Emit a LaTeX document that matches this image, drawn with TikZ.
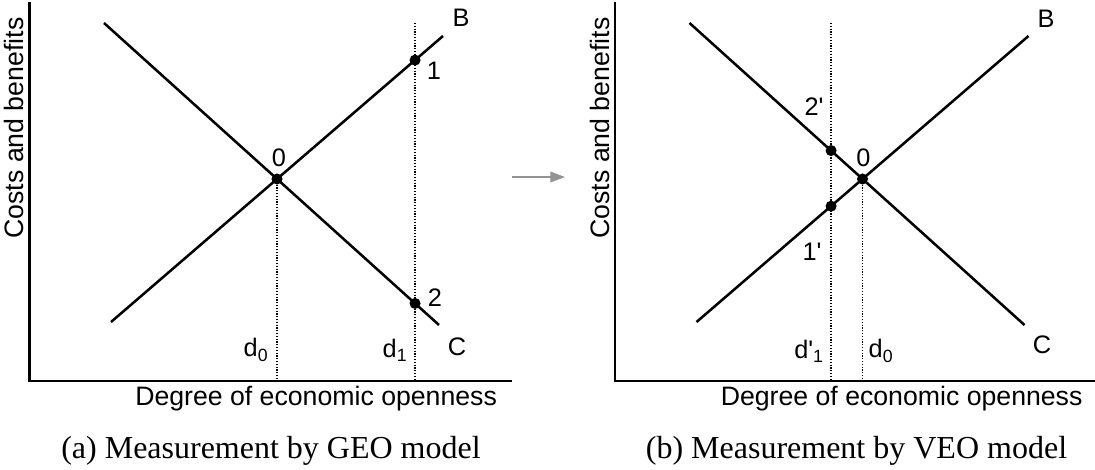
\documentclass[tikz,border=0pt]{standalone}
\usepackage{fontspec}
\setmainfont{Liberation Serif}
\setsansfont{Liberation Sans}
\usetikzlibrary{arrows.meta, positioning, calc}

\begin{document}
\begin{tikzpicture}[x=0.75pt, y=-0.75pt,
  axis/.style={line width=2.2pt},
  curve/.style={line width=1.9pt},
  guide/.style={line width=0.9pt, dash pattern=on 0.9pt off 1.2pt},
  dot/.style={circle, fill=black, inner sep=0pt, minimum size=8.3pt},
  lbl/.style={font=\sffamily\fontsize{19}{21}\selectfont, inner sep=0pt},
  axlbl/.style={font=\sffamily\fontsize{20}{22}\selectfont, inner sep=0pt},
  captxt/.style={font=\fontsize{24}{26}\selectfont, inner sep=0pt}]
  \useasboundingbox (0,0) rectangle (1095,469);

  % (a) GEO model
  \coordinate (ya) at (29.5,2); \coordinate (oa) at (29.5,381); \coordinate (xa) at (512,381);
  \draw[axis] (ya) -- (oa) -- (xa);
  \coordinate (Cas) at (104,23); \coordinate (Cae) at (439,325);
  \coordinate (Bas) at (111,322); \coordinate (Bae) at (443,36);
  \draw[curve] (Cas) -- (Cae);
  \draw[curve] (Bas) -- (Bae);
  \coordinate (d1t) at (415,23); \coordinate (d1b) at (415,381);
  \coordinate (P0a) at (intersection of Cas--Cae and Bas--Bae);
  \coordinate (P1a) at (intersection of Bas--Bae and d1t--d1b);
  \coordinate (P2a) at (intersection of Cas--Cae and d1t--d1b);
  \coordinate (d0a) at (P0a |- oa);
  \draw[guide] (P0a) -- (d0a);
  \draw[guide] (d1t) -- (d1b);
  \node[dot] (n0a) at (P0a) {};
  \node[dot] (n1a) at (P1a) {};
  \node[dot] (n2a) at (P2a) {};
  \node[lbl] (l0a) at (279,158) {0};
  \node[lbl] (l1a) at (434,71) {1};
  \node[lbl] (l2a) at (435,298) {2};
  \node[lbl] (lBa) at (461,18) {B};
  \node[lbl] (lCa) at (457,347) {C};
  \node[lbl] (ld0a) at (256,350) {d\textsubscript{0}};
  \node[lbl] (ld1a) at (395,350) {d\textsubscript{1}};
  \node[axlbl, rotate=90] (yla) at (14,128) {Costs and benefits};
  \node[axlbl, anchor=west] (xla) at (135,399) {Degree of economic openness};
  \node[captxt, anchor=base] (capa) at (271,458) {(a) Measurement by GEO model};

  % arrow between the panels
  \coordinate (ar1) at (512,177); \coordinate (ar2) at (565,177);
  \draw[line width=1.1pt, gray!85, -{Triangle[length=11pt, width=8pt]}] (ar1) -- (ar2);

  % (b) VEO model
  \coordinate (yb) at (615,2); \coordinate (ob) at (615,381); \coordinate (xb) at (1095,381);
  \draw[axis] (yb) -- (ob) -- (xb);
  \coordinate (Cbs) at (689.5,23); \coordinate (Cbe) at (1024.5,325);
  \coordinate (Bbs) at (696.5,322); \coordinate (Bbe) at (1028.5,36);
  \draw[curve] (Cbs) -- (Cbe);
  \draw[curve] (Bbs) -- (Bbe);
  \coordinate (e1t) at (831,23); \coordinate (e1b) at (831,381);
  \coordinate (P0b) at (intersection of Cbs--Cbe and Bbs--Bbe);
  \coordinate (P1b) at (intersection of Bbs--Bbe and e1t--e1b);
  \coordinate (P2b) at (intersection of Cbs--Cbe and e1t--e1b);
  \coordinate (d0b) at (P0b |- ob);
  \draw[guide] (P0b) -- (d0b);
  \draw[guide] (e1t) -- (e1b);
  \node[dot] (n0b) at (P0b) {};
  \node[dot] (n1b) at (P1b) {};
  \node[dot] (n2b) at (P2b) {};
  \node[lbl] (l0b) at (863.5,158) {0};
  \node[lbl] (l1b) at (812,252) {1\textquotesingle};
  \node[lbl] (l2b) at (814,107) {2\textquotesingle};
  \node[lbl] (lBb) at (1046,19) {B};
  \node[lbl] (lCb) at (1042,345) {C};
  \node[lbl] (ld1b) at (809,351) {d\textquotesingle\textsubscript{1}};
  \node[lbl] (ld0b) at (881,351) {d\textsubscript{0}};
  \node[axlbl, rotate=90] (ylb) at (599.5,128) {Costs and benefits};
  \node[axlbl, anchor=west] (xlb) at (720.5,399) {Degree of economic openness};
  \node[captxt, anchor=base] (capb) at (856.5,458) {(b) Measurement by VEO model};
\end{tikzpicture}
\end{document}
